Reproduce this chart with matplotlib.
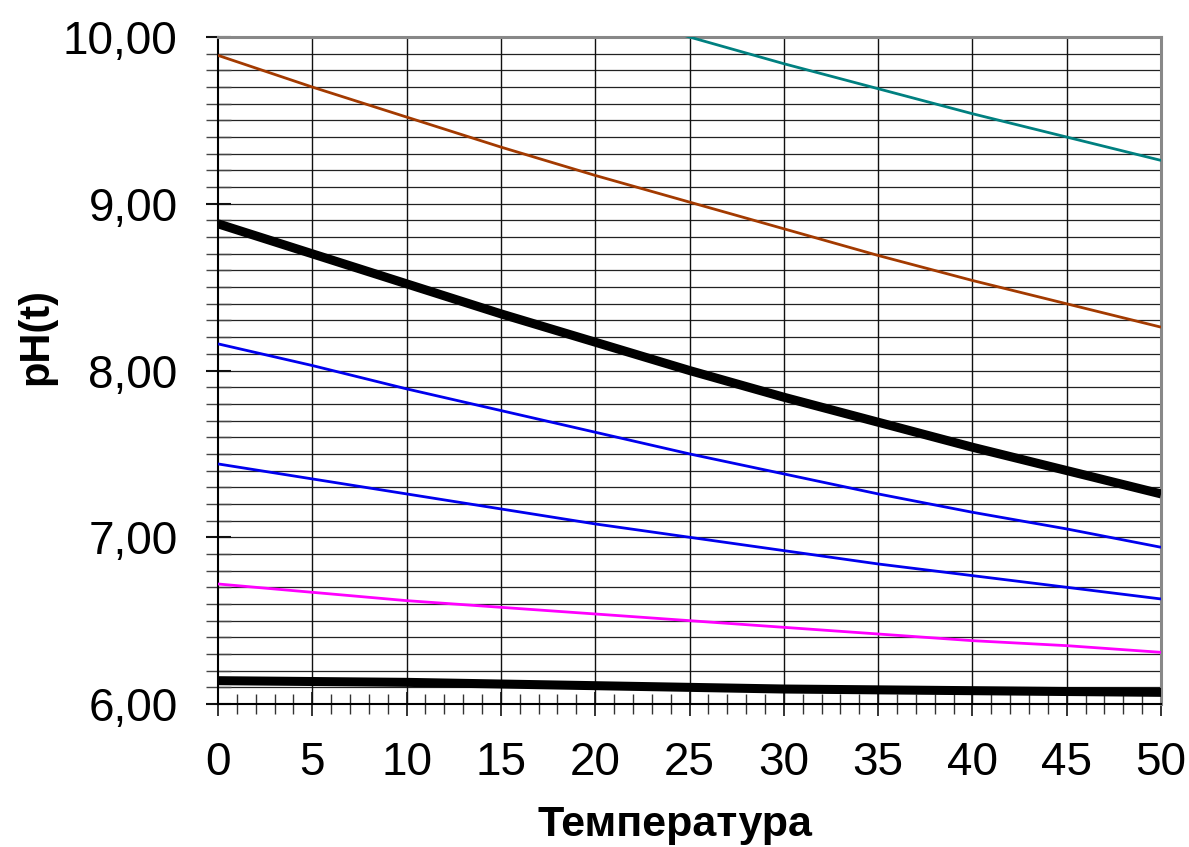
import numpy as np
import matplotlib
matplotlib.use("Agg")
import matplotlib.pyplot as plt
from matplotlib.ticker import MultipleLocator, FixedLocator

plt.rcParams['font.family'] = ['Liberation Sans', 'DejaVu Sans']

temps = [0, 5, 10, 15, 20, 25, 30, 35, 40, 45, 50]
ph_teal = [10.95, 10.74, 10.55, 10.36, 10.18, 10.00, 9.84, 9.69, 9.54, 9.40, 9.26]
ph_brown = [9.89, 9.70, 9.52, 9.34, 9.17, 9.01, 8.85, 8.69, 8.54, 8.40, 8.26]
ph_black_hi = [8.88, 8.70, 8.52, 8.34, 8.17, 8.00, 7.84, 7.69, 7.54, 7.40, 7.26]
ph_blue_hi = [8.16, 8.03, 7.89, 7.76, 7.63, 7.50, 7.38, 7.26, 7.15, 7.05, 6.94]
ph_blue_lo = [7.44, 7.35, 7.26, 7.17, 7.08, 7.00, 6.92, 6.84, 6.77, 6.70, 6.63]
ph_magenta = [6.72, 6.67, 6.62, 6.58, 6.54, 6.50, 6.46, 6.42, 6.38, 6.35, 6.31]
ph_black_lo = [6.14, 6.135, 6.13, 6.12, 6.11, 6.10, 6.09, 6.085, 6.08, 6.075, 6.07]

xticks = [0, 5, 10, 15, 20, 25, 30, 35, 40, 45, 50]
yticks = [6, 7, 8, 9, 10]
ytick_labels = ['6,00', '7,00', '8,00', '9,00', '10,00']

fig = plt.figure(figsize=(11.89, 8.47), dpi=100)
ax = fig.add_axes([0.1833, 0.1688, 0.9765 - 0.1833, 0.9563 - 0.1688])

# grid
for yv in np.arange(6.1, 10.0, 0.1):
    ax.axhline(yv, color='#222222', lw=0.9, zorder=1)
for xv in xticks[1:-1]:
    ax.axvline(xv, color='#111111', lw=1.0, zorder=1)

series = [
    (ph_teal, '#008080', 2.0),
    (ph_brown, '#a33a00', 2.0),
    (ph_black_hi, '#000000', 6.5),
    (ph_blue_hi, '#0000ee', 2.0),
    (ph_blue_lo, '#0000ee', 2.0),
    (ph_magenta, '#ff00ff', 2.0),
    (ph_black_lo, '#000000', 6.5),
]
for ys, c, lw in series:
    ax.plot(temps, ys, color=c, lw=lw, zorder=3, solid_capstyle='butt')

ax.set_xlim(0, 50)
ax.set_ylim(6, 10)
ax.xaxis.set_major_locator(FixedLocator(xticks))
ax.xaxis.set_minor_locator(MultipleLocator(1))
ax.yaxis.set_major_locator(FixedLocator(yticks))
ax.yaxis.set_minor_locator(MultipleLocator(0.1))
ax.set_xticklabels([str(v) for v in xticks])
ax.set_yticklabels(ytick_labels)

ax.tick_params(axis='x', which='major', direction='inout', length=17, width=1.2,
               labelsize=33, pad=18, color='#111111')
ax.tick_params(axis='x', which='minor', direction='inout', length=14, width=1.0,
               color='#333333')
ax.tick_params(axis='y', which='major', direction='inout', length=18, width=1.5,
               labelsize=33, pad=20, color='#111111')
ax.tick_params(axis='y', which='minor', direction='inout', length=18, width=1.0,
               color='#444444')

for s in ['top', 'right']:
    ax.spines[s].set_color('#888888')
    ax.spines[s].set_linewidth(2.2)
for s in ['left', 'bottom']:
    ax.spines[s].set_color('#000000')
    ax.spines[s].set_linewidth(1.5)

fig.text(675 / 1189, 1 - 825 / 847, 'Температура', fontsize=31, fontweight='bold',
         ha='center', va='center')
fig.text(36 / 1189, 1 - 336 / 847, 'pH(t)', fontsize=30, fontweight='bold',
         ha='center', va='center', rotation=90)

fig.savefig('out.png', dpi=100, facecolor='white')
